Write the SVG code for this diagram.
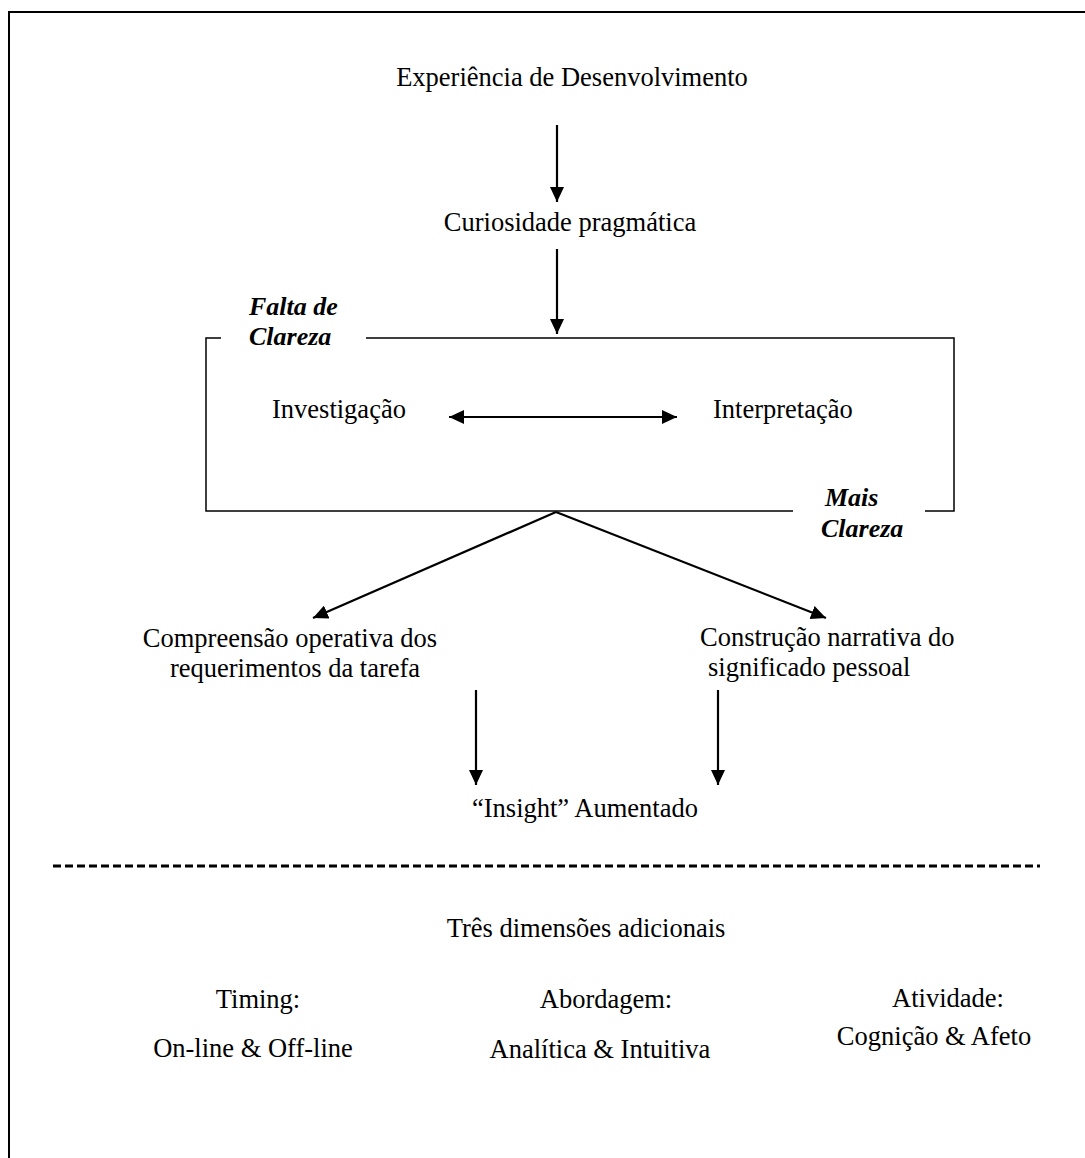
<svg xmlns="http://www.w3.org/2000/svg" width="1085" height="1158" viewBox="0 0 1085 1158">
<style>
.t{font-family:"Liberation Serif","Times New Roman",serif;font-size:26.5px;fill:#000}
.bi{font-family:"Liberation Serif","Times New Roman",serif;font-size:26px;font-weight:bold;font-style:italic;fill:#000}
.ln{stroke:#000;stroke-width:1.5;fill:none}
.ar{stroke:#000;stroke-width:2.2;fill:none}
</style>
<defs>
<marker id="ah" markerUnits="userSpaceOnUse" markerWidth="16" markerHeight="14" refX="15" refY="7" orient="auto-start-reverse">
<path d="M0,0 L15,7 L0,14 Z" fill="#000"/>
</marker>
</defs>
<rect x="0" y="0" width="1085" height="1158" fill="#fff"/>
<rect x="9" y="12" width="1100" height="1200" fill="none" stroke="#000" stroke-width="2"/>

<g id="connectors">
<line class="ar" x1="557" y1="125" x2="557" y2="202" marker-end="url(#ah)"/>
<line class="ar" x1="557" y1="249" x2="557" y2="334" marker-end="url(#ah)"/>
<line class="ar" x1="449" y1="417" x2="677" y2="417" marker-start="url(#ah)" marker-end="url(#ah)"/>
<line class="ar" x1="556" y1="512" x2="313" y2="618" marker-end="url(#ah)"/>
<line class="ar" x1="556" y1="512" x2="826" y2="618" marker-end="url(#ah)"/>
<line class="ar" x1="476" y1="690" x2="476" y2="785" marker-end="url(#ah)"/>
<line class="ar" x1="718" y1="690" x2="718" y2="785" marker-end="url(#ah)"/>
</g>

<g id="bracket-box">
<polyline class="ln" points="221,338 206,338 206,511 793,511"/>
<polyline class="ln" points="366,338 954,338 954,511 925,511"/>
</g>

<g id="n-experiencia"><text class="t" x="572" y="86" text-anchor="middle">Experiência de Desenvolvimento</text></g>
<g id="n-curiosidade"><text class="t" x="570" y="231" text-anchor="middle">Curiosidade pragmática</text></g>
<g id="n-falta"><text class="bi" x="249" y="315">Falta de</text><text class="bi" x="249" y="345">Clareza</text></g>
<g id="n-investigacao"><text class="t" x="272" y="418">Investigação</text></g>
<g id="n-interpretacao"><text class="t" x="713" y="418">Interpretação</text></g>
<g id="n-mais"><text class="bi" x="825" y="506">Mais</text><text class="bi" x="821" y="537">Clareza</text></g>
<g id="n-compreensao"><text class="t" x="290" y="647" text-anchor="middle">Compreensão operativa dos</text><text class="t" x="295" y="677" text-anchor="middle">requerimentos da tarefa</text></g>
<g id="n-construcao"><text class="t" x="700" y="646">Construção narrativa do</text><text class="t" x="708" y="676">significado pessoal</text></g>
<g id="n-insight"><text class="t" x="472" y="817">“Insight” Aumentado</text></g>

<line x1="53" y1="866" x2="1040" y2="866" stroke="#000" stroke-width="3" stroke-dasharray="8,4"/>

<g id="n-tres"><text class="t" x="586" y="937" text-anchor="middle">Três dimensões adicionais</text></g>
<g id="n-timing"><text class="t" x="258" y="1008" text-anchor="middle">Timing:</text><text class="t" x="253" y="1057" text-anchor="middle">On-line &amp; Off-line</text></g>
<g id="n-abordagem"><text class="t" x="606" y="1008" text-anchor="middle">Abordagem:</text><text class="t" x="600" y="1058" text-anchor="middle">Analítica &amp; Intuitiva</text></g>
<g id="n-atividade"><text class="t" x="948" y="1007" text-anchor="middle">Atividade:</text><text class="t" x="934" y="1045" text-anchor="middle">Cognição &amp; Afeto</text></g>
</svg>
